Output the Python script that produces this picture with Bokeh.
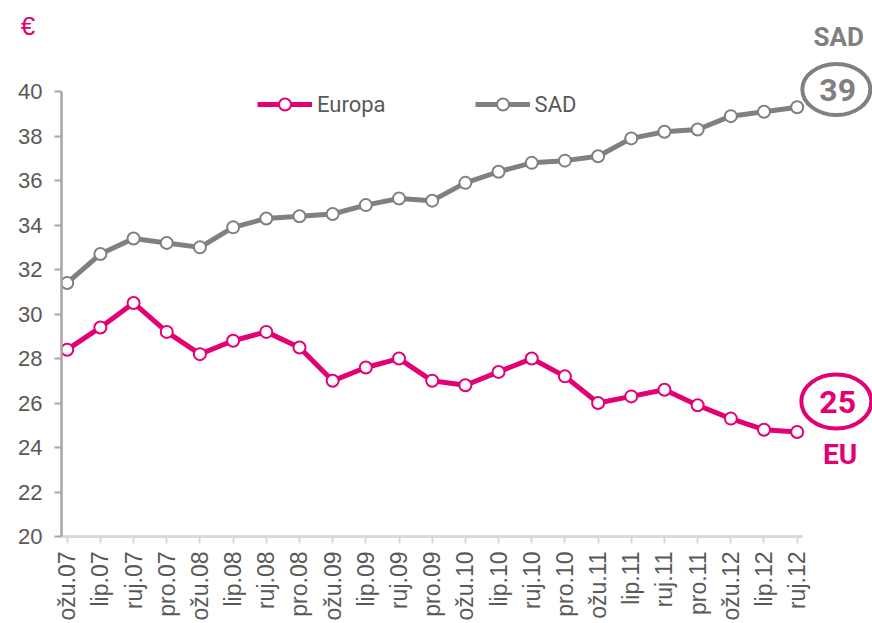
import math
from bokeh.plotting import figure
from bokeh.models import Range1d, LinearAxis, FixedTicker, Legend, LegendItem, Label
from bokeh.core.properties import value
from bokeh.embed import file_html
from bokeh.resources import INLINE

# ---- data ----
quarters = ["ožu.07", "lip.07", "ruj.07", "pro.07",
            "ožu.08", "lip.08", "ruj.08", "pro.08",
            "ožu.09", "lip.09", "ruj.09", "pro.09",
            "ožu.10", "lip.10", "ruj.10", "pro.10",
            "ožu.11", "lip.11", "ruj.11", "pro.11",
            "ožu.12", "lip.12", "ruj.12"]
europa = [28.4, 29.4, 30.5, 29.2, 28.2, 28.8, 29.2, 28.5, 27.0, 27.6, 28.0, 27.0,
          26.8, 27.4, 28.0, 27.2, 26.0, 26.3, 26.6, 25.9, 25.3, 24.8, 24.7]
sad = [31.4, 32.7, 33.4, 33.2, 33.0, 33.9, 34.3, 34.4, 34.5, 34.9, 35.2, 35.1,
       35.9, 36.4, 36.8, 36.9, 37.1, 37.9, 38.2, 38.3, 38.9, 39.1, 39.3]
y_ticks = [20, 22, 24, 26, 28, 30, 32, 34, 36, 38, 40]
series_names = ["Europa", "SAD"]
callout_names = ["EU", "SAD"]
unit_label = "€"

MAGENTA = "#E20074"
GRAY = "#808080"
TEXT = "#595959"
AX_FONT = "Liberation Sans"
BOLD_FONT = "Roboto"

x = list(range(len(quarters)))
last = x[-1]
pad = 0.172

p = figure(width=872, height=623, output_backend="svg", toolbar_location=None,
           x_range=Range1d(-pad, 24.27), y_range=Range1d(20, 44.10),
           x_axis_location=None, y_axis_location=None,
           min_border_left=61, min_border_right=0, min_border_top=0, min_border_bottom=86)
p.outline_line_color = None
p.grid.visible = False
p.background_fill_color = "white"
p.border_fill_color = "white"

# y axis
yaxis = LinearAxis(ticker=FixedTicker(ticks=y_ticks), bounds=(y_ticks[0], y_ticks[-1]),
                   axis_line_color="#A6A6A6", axis_line_width=2.5,
                   major_tick_line_color="#A6A6A6", major_tick_line_width=2,
                   major_tick_out=7, major_tick_in=0, minor_tick_line_color=None,
                   major_label_text_font=AX_FONT, major_label_text_font_size="22px",
                   major_label_text_color=TEXT, major_label_standoff=12)
p.add_layout(yaxis, "left")

# unit sign above the y axis (side panel, so it is not clipped by the frame)
p.add_layout(Label(x=-1.18, y=42.95, text=unit_label, text_color=MAGENTA,
                   text_font=AX_FONT, text_font_size="26px",
                   text_align="center", text_baseline="middle"), "left")

# x axis with category labels
xaxis = LinearAxis(ticker=FixedTicker(ticks=x), bounds=(-pad, last + 0.16),
                   major_label_overrides={i: q for i, q in enumerate(quarters)},
                   axis_line_color="#D9D9D9", axis_line_width=3,
                   major_tick_line_color="#D9D9D9", major_tick_line_width=2,
                   major_tick_out=7, major_tick_in=0, minor_tick_line_color=None,
                   major_label_orientation=math.pi / 2,
                   major_label_text_font=AX_FONT, major_label_text_font_size="23px",
                   major_label_text_color=TEXT, major_label_standoff=8)
p.add_layout(xaxis, "below")

# series
eu_line = p.line(x, europa, line_color=MAGENTA, line_width=5)
eu_pts = p.scatter(x, europa, size=12, fill_color="white", line_color=MAGENTA, line_width=2)
sad_line = p.line(x, sad, line_color=GRAY, line_width=5)
sad_pts = p.scatter(x, sad, size=12, fill_color="white", line_color=GRAY, line_width=2)

legend = Legend(items=[LegendItem(label=series_names[0], renderers=[eu_line, eu_pts]),
                       LegendItem(label=series_names[1], renderers=[sad_line, sad_pts])],
                orientation="horizontal", location=(196, 417),
                glyph_width=55, glyph_height=30, label_standoff=5, spacing=89,
                padding=0, margin=0, border_line_color=None, background_fill_alpha=0,
                label_text_font=BOLD_FONT, label_text_font_size="22px",
                label_text_color=TEXT)
p.add_layout(legend)

# call-outs at the last values
cx = last + 1.18
p.ellipse(x=[cx], y=[sad[-1] + 0.8], width=68, height=51,
          width_units="screen", height_units="screen",
          fill_color=None, line_color=GRAY, line_width=4)
p.ellipse(x=[cx], y=[europa[-1] + 1.37], width=70, height=54,
          width_units="screen", height_units="screen",
          fill_color=None, line_color=MAGENTA, line_width=4)
p.text(x=[cx + 0.04], y=[sad[-1] + 0.78], text=[str(round(sad[-1]))],
       text_font=value(BOLD_FONT), text_font_style="bold", text_font_size="32px",
       text_color=GRAY, text_align="center", text_baseline="middle")
p.text(x=[cx + 0.04], y=[europa[-1] + 1.33], text=[str(round(europa[-1]))],
       text_font=value(BOLD_FONT), text_font_style="bold", text_font_size="32px",
       text_color=MAGENTA, text_align="center", text_baseline="middle")
p.text(x=[cx + 0.07], y=[sad[-1] + 3.18], text=[callout_names[1]],
       text_font=value(BOLD_FONT), text_font_style="bold", text_font_size="26px",
       text_color=GRAY, text_align="center", text_baseline="middle")
p.text(x=[cx + 0.11], y=[europa[-1] - 1.03], text=[callout_names[0]],
       text_font=value(BOLD_FONT), text_font_style="bold", text_font_size="28px",
       text_color=MAGENTA, text_align="center", text_baseline="middle")

open("out.html", "w").write(file_html(p, INLINE))
